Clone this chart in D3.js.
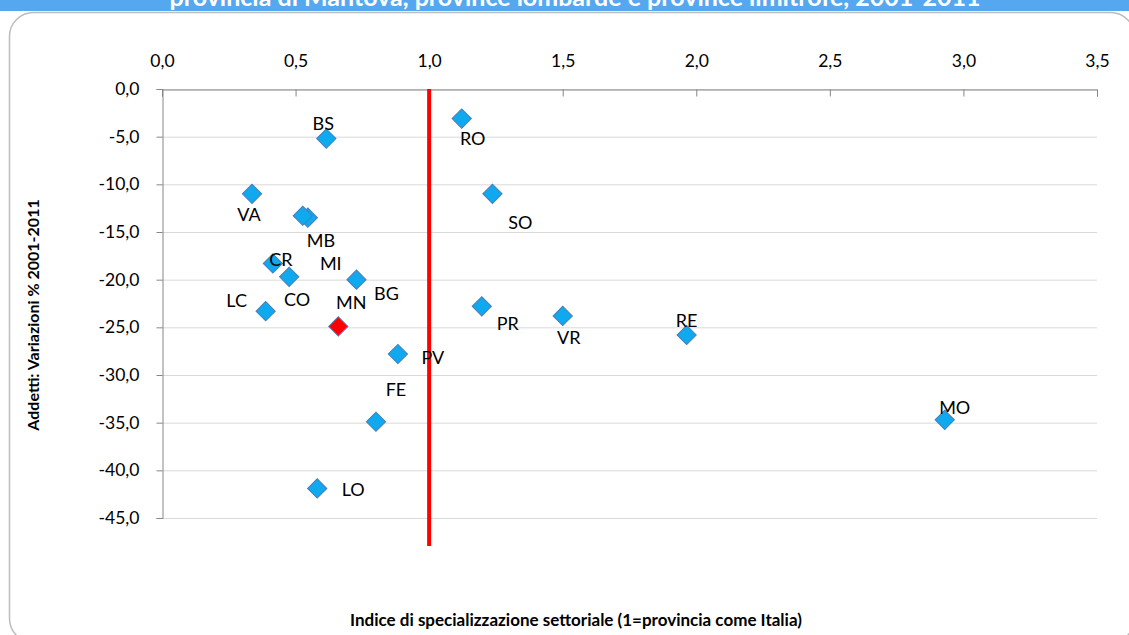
<!DOCTYPE html>
<html>
<head>
<meta charset="utf-8">
<script src="https://cdn.jsdelivr.net/npm/d3@7"></script>
<style>
  body { margin: 0; background: #fff; }
  svg text { font-family: Lato, "Open Sans", sans-serif; }
</style>
</head>
<body>
<svg id="chart"></svg>
<script>
// scatter: specializzazione vs variazione addetti

var w = 1129, h = 635;

var sigle   = ["BS", "RO", "VA", "MB", "MI", "CR", "CO", "BG", "LC", "MN", "SO", "PR", "VR", "RE", "PV", "FE", "MO", "LO"];
var indice  = [0.615, 1.122, 0.337, 0.546, 0.527, 0.415, 0.476, 0.728, 0.388, 0.660, 1.237, 1.197, 1.500, 1.964, 0.883, 0.801, 2.930, 0.581];
var variaz  = [-5.2, -3.1, -11.0, -13.5, -13.3, -18.3, -19.7, -20.0, -23.3, -24.9, -11.0, -22.8, -23.8, -25.8, -27.8, -34.9, -34.7, -41.9];
// label offsets in px relative to the marker (dx, dy)
var labDx   = [-3, 11, -3, 13, 28, 8, 8, 30, -29, 13, 28, 26, 6, 0, 35, 20, 10, 36];
var labDy   = [-16, 19, 20, 22, 47, -4, 22, 13, -11, -24, 28, 17, 21, -15, 3, -33, -13, 1];

var xTicks = [0, 0.5, 1, 1.5, 2, 2.5, 3, 3.5];
var yTicks = [0, -5, -10, -15, -20, -25, -30, -35, -40, -45];

var fmt = function(v) { return d3.format(".1f")(v).replace(".", ",").replace("−", "-"); };

var svg = d3.select("#chart").attr("width", w).attr("height", h);

// banner + frame
svg.append("rect").attr("x", 0).attr("y", 0).attr("width", w).attr("height", 11).attr("fill", "#55a8ef");
svg.append("text")
   .attr("x", 575).attr("y", 6)
   .attr("text-anchor", "middle")
   .attr("fill", "#fff").attr("font-weight", "bold").attr("font-size", 25)
   .text("provincia di Mantova, province lombarde e province limitrofe, 2001-2011");
svg.append("rect")
   .attr("x", 9.5).attr("y", 12.5).attr("width", 1125).attr("height", 630)
   .attr("rx", 24).attr("ry", 24)
   .attr("fill", "#fff").attr("stroke", "#bdbdbd").attr("stroke-width", 1.5);

var x = d3.scaleLinear().domain([0, 3.5]).range([162, 1097]);
var y = d3.scaleLinear().domain([0, -45]).range([89, 518]);

// gridlines
svg.append("g").selectAll("line").data(yTicks).enter().append("line")
   .attr("x1", x(0)).attr("x2", x(3.5))
   .attr("y1", function(d) { return y(d) + 0.5; })
   .attr("y2", function(d) { return y(d) + 0.5; })
   .attr("stroke", "#d9d9d9").attr("stroke-width", 1);

// top x axis (ticks pointing inward)
var xAxis = svg.append("g")
   .attr("transform", "translate(0," + (y(0) + 0.5) + ")")
   .call(d3.axisTop(x).tickValues(xTicks).tickSizeInner(-7).tickSizeOuter(-7).tickPadding(23).tickFormat(fmt));
xAxis.select(".domain").attr("stroke", "#868686");
xAxis.selectAll(".tick line").attr("stroke", "#868686");
xAxis.selectAll("text").attr("font-size", 17.5).attr("fill", "#000");

// left y axis
var yAxis = svg.append("g")
   .attr("transform", "translate(" + (x(0) + 0.5) + ",0)")
   .call(d3.axisLeft(y).tickValues(yTicks).tickSize(6).tickPadding(17).tickFormat(fmt));
yAxis.select(".domain").attr("stroke", "#868686");
yAxis.selectAll(".tick line").attr("stroke", "#868686");
yAxis.selectAll("text").attr("font-size", 17.5).attr("fill", "#000");

// red reference line at 1 = Italia
svg.append("line")
   .attr("x1", x(1)).attr("x2", x(1))
   .attr("y1", y(0)).attr("y2", 546)
   .attr("stroke", "#ff0000").attr("stroke-width", 4);

// points
var idx = d3.range(sigle.length);
var sym = d3.symbol().type(d3.symbolSquare).size(185);
svg.append("g").selectAll("path").data(idx).enter().append("path")
   .attr("d", sym)
   .attr("transform", function(i) { return "translate(" + x(indice[i]) + "," + y(variaz[i]) + ") rotate(45)"; })
   .attr("fill", function(i) { return sigle[i] == "MN" ? "#ff0000" : "#0ea9ef"; })
   .attr("stroke", "#4a7ebb").attr("stroke-width", 1);

svg.append("g").selectAll("text").data(idx).enter().append("text")
   .attr("x", function(i) { return x(indice[i]) + labDx[i]; })
   .attr("y", function(i) { return y(variaz[i]) + labDy[i]; })
   .attr("text-anchor", "middle").attr("dominant-baseline", "central")
   .attr("font-size", 18).attr("fill", "#000")
   .text(function(i) { return sigle[i]; });

// axis titles
svg.append("text")
   .attr("transform", "translate(39,315) rotate(-90)")
   .attr("text-anchor", "middle").attr("font-weight", "bold").attr("font-size", 16)
   .text("Addetti: Variazioni % 2001-2011");
svg.append("text")
   .attr("x", 576).attr("y", 626)
   .attr("text-anchor", "middle").attr("font-weight", "bold").attr("font-size", 17)
   .text("Indice di specializzazione settoriale (1=provincia come Italia)");
</script>
</body>
</html>
